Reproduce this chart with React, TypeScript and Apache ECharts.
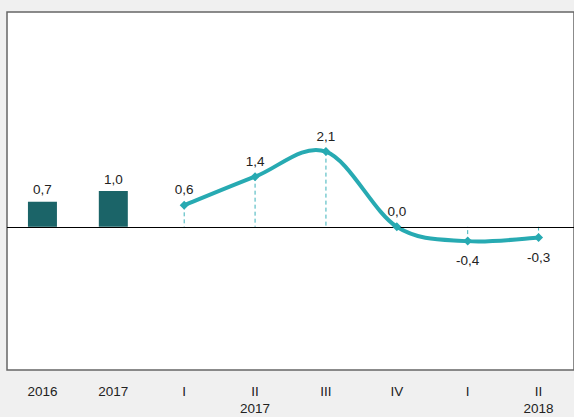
import React, { useEffect, useRef } from "react";
import * as echarts from "echarts";

const categories = ["2016", "2017", "I", "II\n2017", "III", "IV", "I", "II\n2018"];
const annualValues: (number | null)[] = [0.7, 1.0, null, null, null, null, null, null];
const quarterlyValues: (number | null)[] = [null, null, 0.6, 1.4, 2.1, 0.0, -0.4, -0.3];

const fmt = (v: number) => v.toFixed(1).replace(".", ",");
const FONT = "'Liberation Sans', Arial, sans-serif";
const FS = 13.5;
const LINE_COLOR = "#27aab2";

export default function App() {
  const ref = useRef<HTMLDivElement>(null);
  useEffect(() => {
    if (!ref.current) return;
    const chart = echarts.init(ref.current, undefined, { renderer: "svg" });
    const has = (i: number) =>
      i >= 0 && i < quarterlyValues.length && quarterlyValues[i] !== null;
    chart.setOption({
      animation: false,
      backgroundColor: "#f0f0f0",
      textStyle: { fontFamily: FONT },
      grid: {
        left: 7,
        top: 12,
        right: -3,
        bottom: 42,
        show: true,
        backgroundColor: "#ffffff",
        borderColor: "#666666",
        borderWidth: 1.5,
      },
      xAxis: {
        type: "category",
        data: categories,
        axisLine: { show: false, onZero: false },
        axisTick: { show: false },
        axisLabel: {
          color: "#222",
          fontSize: FS,
          fontFamily: FONT,
          margin: 13,
          lineHeight: 17,
          interval: 0,
        },
      },
      yAxis: {
        type: "value",
        min: -4,
        max: 6,
        show: false,
        splitLine: { show: false },
      },
      series: [
        {
          type: "bar",
          data: annualValues,
          barWidth: 29,
          itemStyle: { color: "#1b6468" },
          label: {
            show: true,
            position: "top",
            distance: 5,
            color: "#222",
            fontSize: FS,
            fontFamily: FONT,
            formatter: (p: any) => fmt(p.value),
          },
          z: 2,
        },
        {
          type: "custom",
          data: quarterlyValues.map((v, i) => [i, v]),
          renderItem: (params: any, api: any) => {
            const v = api.value(1);
            if (v === null || isNaN(v) || v === 0) return null;
            const p1 = api.coord([api.value(0), v]);
            const p0 = api.coord([api.value(0), 0]);
            return {
              type: "line",
              shape: { x1: p1[0], y1: p1[1], x2: p0[0], y2: p0[1] },
              style: { stroke: "#3cb2ba", lineWidth: 1, lineDash: [4, 3] },
            };
          },
          z: 3,
          silent: true,
        },
        {
          type: "custom",
          data: quarterlyValues.map((v, i) => [i, v]),
          renderItem: (params: any, api: any) => {
            const i = api.value(0);
            if (!has(i) || !has(i + 1)) return null;
            const pt = (k: number) => api.coord([k, quarterlyValues[k] as number]);
            const P1 = pt(i);
            const P2 = pt(i + 1);
            const P0 = has(i - 1) ? pt(i - 1) : P1;
            const P3 = has(i + 2) ? pt(i + 2) : P2;
            const k = 1 / 6;
            return {
              type: "bezierCurve",
              shape: {
                x1: P1[0],
                y1: P1[1],
                x2: P2[0],
                y2: P2[1],
                cpx1: P1[0] + (P2[0] - P0[0]) * k,
                cpy1: P1[1] + (P2[1] - P0[1]) * k,
                cpx2: P2[0] - (P3[0] - P1[0]) * k,
                cpy2: P2[1] - (P3[1] - P1[1]) * k,
              },
              style: { stroke: LINE_COLOR, lineWidth: 4, fill: "none", lineCap: "round" },
            };
          },
          z: 4,
          silent: true,
        },
        {
          type: "line",
          data: quarterlyValues.map((v) =>
            v === null
              ? null
              : {
                  value: v,
                  label: {
                    position: v < 0 ? "bottom" : "top",
                    distance: v < 0 ? 8 : 4,
                  },
                }
          ),
          symbol: "diamond",
          symbolSize: 9,
          lineStyle: { opacity: 0 },
          itemStyle: { color: LINE_COLOR },
          label: {
            show: true,
            color: "#222",
            fontSize: FS,
            fontFamily: FONT,
            formatter: (p: any) => fmt(p.value),
          },
          z: 5,
          markLine: {
            silent: true,
            symbol: "none",
            label: { show: false },
            lineStyle: { color: "#000", width: 1, type: "solid" },
            data: [{ yAxis: 0 }],
          },
        },
      ],
    });
    return () => chart.dispose();
  }, []);
  return (
    <div
      ref={ref}
      style={{ position: "absolute", left: 0, top: 0, width: 574, height: 417 }}
    />
  );
}
